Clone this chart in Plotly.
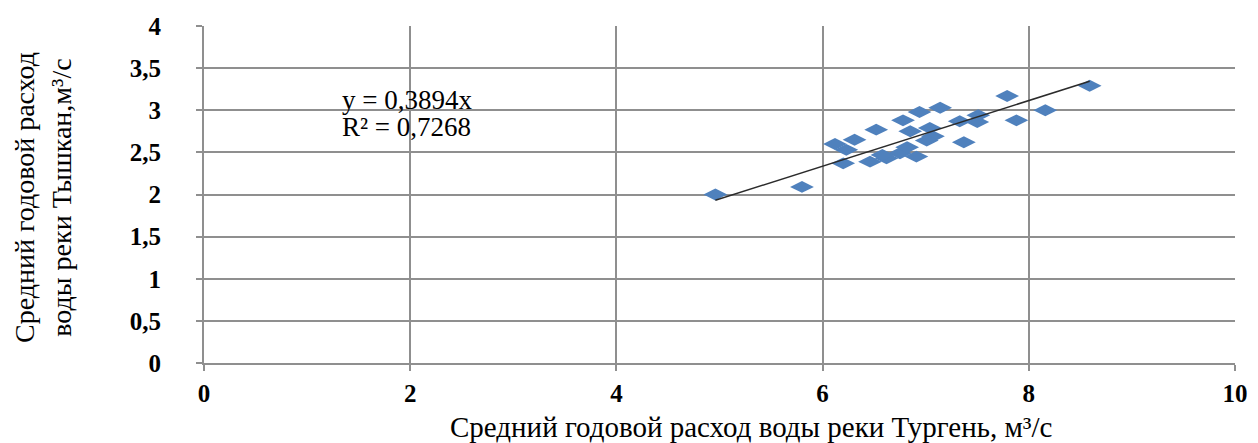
import plotly.graph_objects as go

# mean annual discharge, m3/s
turgen = [4.96, 5.80, 6.12, 6.23, 6.20, 6.31, 6.52, 6.46, 6.62, 6.75, 6.91,
          6.85, 6.78, 6.94, 7.07, 7.04, 7.14, 7.01, 7.33, 7.37, 7.51, 7.50,
          7.79, 7.88, 8.16, 8.59, 6.82, 6.58]
tyshkan = [2.00, 2.09, 2.60, 2.53, 2.37, 2.65, 2.77, 2.39, 2.43, 2.49, 2.45,
           2.75, 2.88, 2.98, 2.69, 2.79, 3.03, 2.64, 2.87, 2.62, 2.94, 2.86,
           3.17, 2.88, 3.00, 3.29, 2.56, 2.47]

slope = 0.3894
r2 = 0.7268

x_ticks = [0, 2, 4, 6, 8, 10]
y_ticks = [0, 0.5, 1, 1.5, 2, 2.5, 3, 3.5, 4]

trend_x = [min(turgen), max(turgen)]
trend_y = [slope * v for v in trend_x]

fig = go.Figure()
fig.add_trace(go.Scatter(x=turgen, y=tyshkan, mode="markers",
                         marker=dict(symbol="diamond-wide", size=17, color="#4F81BD"),
                         showlegend=False))
fig.add_trace(go.Scatter(x=trend_x, y=trend_y, mode="lines",
                         line=dict(color="#2b2b2b", width=1.5),
                         showlegend=False))

tickfont = dict(family="Liberation Serif", size=25, color="black", weight="bold")
axis_common = dict(showgrid=True, gridcolor="#8f8f8f", gridwidth=2,
                   showline=True, linecolor="#8f8f8f", linewidth=2,
                   ticks="outside", ticklen=6, tickcolor="#8f8f8f", tickwidth=2,
                   zeroline=False, tickfont=tickfont)

fig.update_xaxes(range=[0, 10], tickvals=x_ticks, ticklabelstandoff=1, **axis_common)
fig.update_yaxes(range=[0, 4], tickvals=y_ticks, ticklabelstandoff=30, **axis_common)

eqfont = dict(family="Liberation Serif", size=27, color="black")
fig.add_annotation(x=1.32, y=3.12, xref="x", yref="y", xanchor="left", yanchor="middle",
                   showarrow=False, text=f"y = {str(slope).replace('.', ',')}x", font=eqfont)
fig.add_annotation(x=1.32, y=2.80, xref="x", yref="y", xanchor="left", yanchor="middle",
                   showarrow=False, text=f"R² = {str(r2).replace('.', ',')}", font=eqfont)

fig.add_annotation(x=0.531, y=-0.19, xref="paper", yref="paper", yanchor="middle",
                   showarrow=False,
                   text="Средний годовой расход воды реки Тургень, м³/с",
                   font=dict(family="Liberation Serif", size=29, color="black"))
fig.add_annotation(x=-0.156, y=0.49, xref="paper", yref="paper", xanchor="center",
                   yanchor="middle", textangle=-90, showarrow=False,
                   text="Средний годовой расход<br>воды реки Тышкан,м³/с",
                   font=dict(family="Liberation Serif", size=28, color="black"))

fig.update_layout(width=1250, height=435, separators=", ",
                  margin=dict(l=196, r=23, t=18, b=80, autoexpand=False),
                  plot_bgcolor="white", paper_bgcolor="white")

fig.write_html("out.html")
